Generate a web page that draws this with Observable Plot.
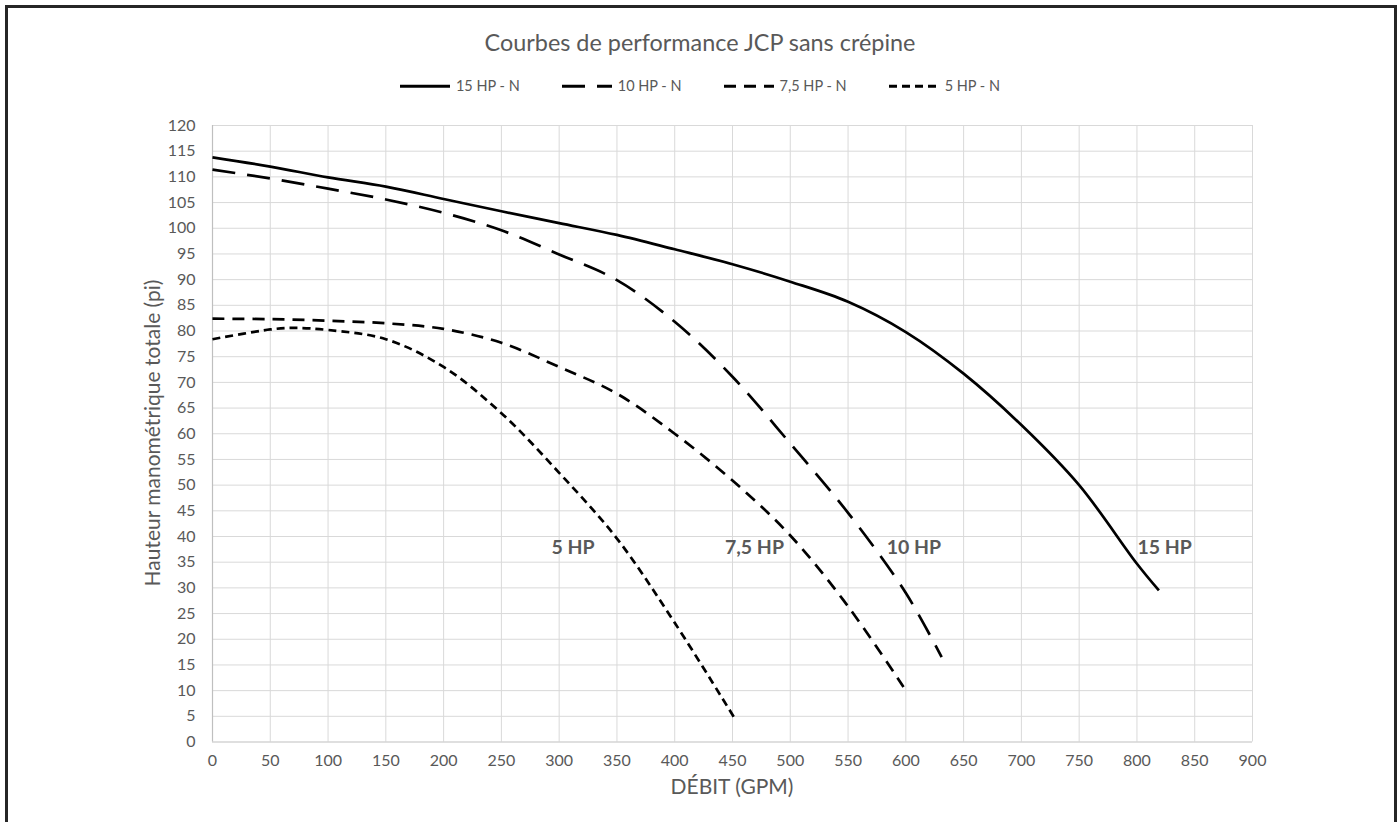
<!DOCTYPE html>
<html>
<head>
<meta charset="utf-8">
<script src="https://cdn.jsdelivr.net/npm/d3@7"></script>
<script src="https://cdn.jsdelivr.net/npm/@observablehq/plot@0.6"></script>
<style>
  html, body { margin: 0; padding: 0; background: #fff; }
  #wrap { position: relative; width: 1400px; height: 822px; overflow: hidden; font-family: Lato, "Open Sans", sans-serif; color: #595959; }
  #frame { position: absolute; left: 5px; top: 5px; width: 1386px; height: 840px; border: 3px solid #262626; }
  #title { position: absolute; left: 0; width: 1400px; top: 42px; transform: translateY(-50%); text-align: center; font-size: 23.4px; line-height: 1.2; }
  #legend { position: absolute; left: 0; width: 1400px; top: 86px; transform: translateY(-50%); display: flex; justify-content: center; font-size: 14.5px; line-height: 1.2; }
  .item { display: flex; align-items: center; margin: 0 21px; }
  .item svg { margin-right: 6px; }
  #chart { position: absolute; left: 0; top: 110px; }
  #ylab { position: absolute; left: 152px; top: 433px; transform: translate(-50%, -50%) rotate(-90deg); font-size: 21px; line-height: 1.1; white-space: nowrap; }
  #xlab { position: absolute; left: 732px; top: 786px; transform: translate(-50%, -50%); font-size: 21px; line-height: 1.1; white-space: nowrap; }
</style>
</head>
<body>
<div id="wrap">
  <div id="frame"></div>
  <div id="title"></div>
  <div id="legend"></div>
  <div id="chart"></div>
  <div id="ylab"></div>
  <div id="xlab"></div>
</div>
<script>
// ---- data ----
const titleText = "Courbes de performance JCP sans crépine";
const xTitle = "DÉBIT (GPM)";
const yTitle = "Hauteur manométrique totale (pi)";

const seriesNames = ["15 HP - N", "10 HP - N", "7,5 HP - N", "5 HP - N"];
const curveLabels = ["15 HP", "10 HP", "7,5 HP", "5 HP"];
const labelGpm = [824, 607, 469, 312];
const labelHead = [37.8, 37.8, 37.8, 37.8];

const gpm15 = [0, 50, 100, 150, 200, 250, 300, 350, 400, 450, 500, 550, 600, 650, 700, 750, 800, 819];
const head15 = [113.8, 112.0, 109.9, 108.1, 105.7, 103.3, 101.0, 98.7, 95.9, 93.0, 89.6, 85.7, 79.8, 71.7, 61.7, 50.0, 34.7, 29.5];

const gpm10 = [0, 50, 100, 150, 200, 250, 300, 350, 400, 450, 500, 550, 600, 631];
const head10 = [111.4, 109.7, 107.7, 105.6, 103.0, 99.6, 94.9, 89.9, 81.8, 71.1, 58.1, 44.6, 29.0, 16.5];

const gpm75 = [0, 50, 100, 150, 200, 250, 300, 350, 400, 450, 500, 550, 598];
const head75 = [82.4, 82.3, 82.0, 81.5, 80.4, 77.7, 73.0, 67.8, 60.0, 50.9, 40.2, 26.4, 10.7];

const gpm5 = [0, 50, 70, 100, 150, 200, 250, 300, 350, 400, 453];
const head5 = [78.4, 80.3, 80.6, 80.2, 78.4, 73.0, 64.0, 52.4, 39.6, 23.2, 4.2];

const xTicks = [0, 50, 100, 150, 200, 250, 300, 350, 400, 450, 500, 550, 600, 650, 700, 750, 800, 850, 900];
const yTicks = [0, 5, 10, 15, 20, 25, 30, 35, 40, 45, 50, 55, 60, 65, 70, 75, 80, 85, 90, 95, 100, 105, 110, 115, 120];

// ---- styles ----
const dashes = [null, "23,12", "12,8", "8,5"];
const widths = [2.7, 2.7, 2.7, 2.7];

const allX = [gpm15, gpm10, gpm75, gpm5];
const allY = [head15, head10, head75, head5];
const rows = allX.map((xs, i) => xs.map((x, j) => ({x, y: allY[i][j], s: i})));
const labelRows = curveLabels.map((t, i) => ({t, x: labelGpm[i], y: labelHead[i]}));

document.getElementById("title").textContent = titleText;
document.getElementById("xlab").textContent = xTitle;
document.getElementById("ylab").textContent = yTitle;

// legend
const leg = document.getElementById("legend");
seriesNames.forEach((name, i) => {
  const it = document.createElement("div");
  it.className = "item";
  const ns = "http://www.w3.org/2000/svg";
  const s = document.createElementNS(ns, "svg");
  s.setAttribute("width", 50); s.setAttribute("height", 10);
  const l = document.createElementNS(ns, "line");
  l.setAttribute("x1", 0); l.setAttribute("x2", 50); l.setAttribute("y1", 5); l.setAttribute("y2", 5);
  l.setAttribute("stroke", "#000"); l.setAttribute("stroke-width", 3);
  if (dashes[i]) l.setAttribute("stroke-dasharray", dashes[i]);
  s.appendChild(l);
  it.appendChild(s);
  const sp = document.createElement("span");
  sp.textContent = name;
  it.appendChild(sp);
  leg.appendChild(it);
});

const marks = [
  Plot.gridX(xTicks.filter(d => d > 0), {stroke: "#d9d9d9", strokeOpacity: 1, strokeWidth: 1}),
  Plot.gridY(yTicks.filter(d => d > 0), {stroke: "#d9d9d9", strokeOpacity: 1, strokeWidth: 1}),
  Plot.ruleY([0], {stroke: "#bfbfbf", strokeWidth: 1.2}),
  Plot.ruleX([0], {stroke: "#bfbfbf", strokeWidth: 1.2}),
  Plot.axisX({ticks: xTicks, tickSize: 0, tickPadding: 13, fontSize: 16, label: null, fill: "#595959"}),
  Plot.axisY({ticks: yTicks, tickSize: 0, tickPadding: 17, fontSize: 16, label: null, fill: "#595959"})
];
rows.forEach((r, i) => {
  marks.push(Plot.line(r, {x: "x", y: "y", curve: "catmull-rom", stroke: "#000", strokeWidth: widths[i],
    strokeDasharray: dashes[i] || undefined, strokeLinecap: "butt"}));
});
marks.push(Plot.text(labelRows, {x: "x", y: "y", text: "t", fontSize: 19.5, fontWeight: "bold", fill: "#595959"}));

const chart = Plot.plot({
  width: 1400,
  height: 700,
  marginLeft: 212,
  marginRight: 148,
  marginTop: 15,
  marginBottom: 68.5,
  style: {fontFamily: "Lato, 'Open Sans', sans-serif", color: "#595959", background: "transparent"},
  x: {domain: [0, 900]},
  y: {domain: [0, 120]},
  marks
});
document.getElementById("chart").appendChild(chart);
</script>
</body>
</html>
